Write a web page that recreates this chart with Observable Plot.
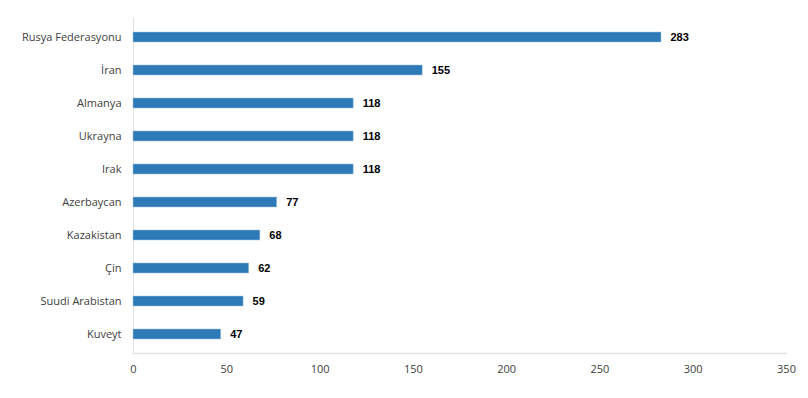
<!DOCTYPE html>
<html>
<head>
<meta charset="utf-8">
<script src="https://cdn.jsdelivr.net/npm/d3@7"></script>
<script src="https://cdn.jsdelivr.net/npm/@observablehq/plot@0.6"></script>
<style>
  html, body { margin: 0; padding: 0; background: #fff; }
  #chart svg { display: block; }
</style>
</head>
<body>
<div id="chart"></div>
<script>
const countries = ["Rusya Federasyonu", "İran", "Almanya", "Ukrayna", "Irak", "Azerbaycan", "Kazakistan", "Çin", "Suudi Arabistan", "Kuveyt"];
const values = [283, 155, 118, 118, 118, 77, 68, 62, 59, 47];
const xTicks = [0, 50, 100, 150, 200, 250, 300, 350];

const data = countries.map((c, i) => ({country: c, value: values[i]}));

const chart = Plot.plot({
  width: 808,
  height: 398,
  marginLeft: 133,
  marginRight: 22,
  marginTop: 18,
  marginBottom: 45,
  style: {fontFamily: "'Open Sans', 'Noto Sans', sans-serif", fontSize: "11px", color: "#404040", background: "#fff"},
  x: {domain: [0, 350], ticks: xTicks, tickSize: 0, tickPadding: 12, label: null},
  y: {domain: countries, paddingInner: 0.7, paddingOuter: 0.36, tickSize: 0, tickPadding: 12, label: null},
  marks: [
    Plot.frame({anchor: "bottom", stroke: "#e3e3e3", strokeWidth: 1.5}),
    Plot.ruleX([0], {stroke: "#e3e3e3", strokeWidth: 1}),
    Plot.barX(data, {y: "country", x: "value", fill: "#2e7ab6", stroke: "#9cc3e4", strokeWidth: 0.5}),
    Plot.text(data, {y: "country", x: "value", text: d => String(d.value), dx: 9, textAnchor: "start",
      fontWeight: "bold", fontFamily: "'Liberation Sans', Arial, sans-serif", fontSize: 11, fill: "#000"})
  ]
});
document.getElementById("chart").appendChild(chart);
</script>
</body>
</html>
